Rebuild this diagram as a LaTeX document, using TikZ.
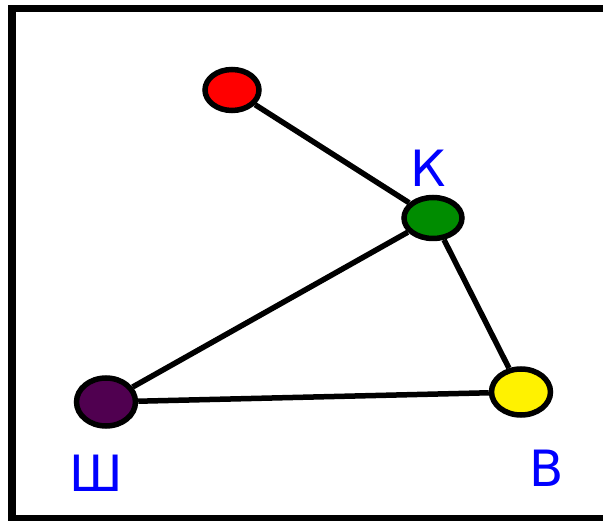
\documentclass[tikz,border=0pt]{standalone}
\usepackage{fontspec}
\setmainfont{DejaVu Sans}
\usetikzlibrary{shapes.geometric}
\begin{document}
\begin{tikzpicture}[x=1pt,y=-1pt,
  vert/.style={ellipse,draw=black,line width=5.5pt,inner sep=0pt},
  edge/.style={line width=5.5pt,black},
  lbl/.style={text=blue,font=\fontsize{50}{54}\selectfont,inner sep=0pt}]
\useasboundingbox (0,0) rectangle (603,521);
\fill[white] (0,0) rectangle (603,521);
\draw[line width=7.5pt] (12,8.5) rectangle (610,519);
\node[vert,fill=red,minimum width=54pt,minimum height=41pt] (r) at (232,90) {};
\node[vert,fill={rgb,255:red,0;green,140;blue,0},minimum width=58pt,minimum height=41pt] (k) at (433,218) {};
\node[vert,fill={rgb,255:red,80;green,0;blue,80},minimum width=59pt,minimum height=48pt] (sh) at (106,402) {};
\node[vert,fill=yellow,minimum width=59pt,minimum height=46pt] (v) at (521,392) {};
\draw[edge] (r) -- (k);
\draw[edge] (k) -- (sh);
\draw[edge] (k) -- (v);
\draw[edge] (sh) -- (v);
\node[lbl] (lk) at (428,168) {К};
\node[lbl] (lsh) at (96,473) {Ш};
\node[lbl] (lv) at (547,468) {В};
\end{tikzpicture}
\end{document}
